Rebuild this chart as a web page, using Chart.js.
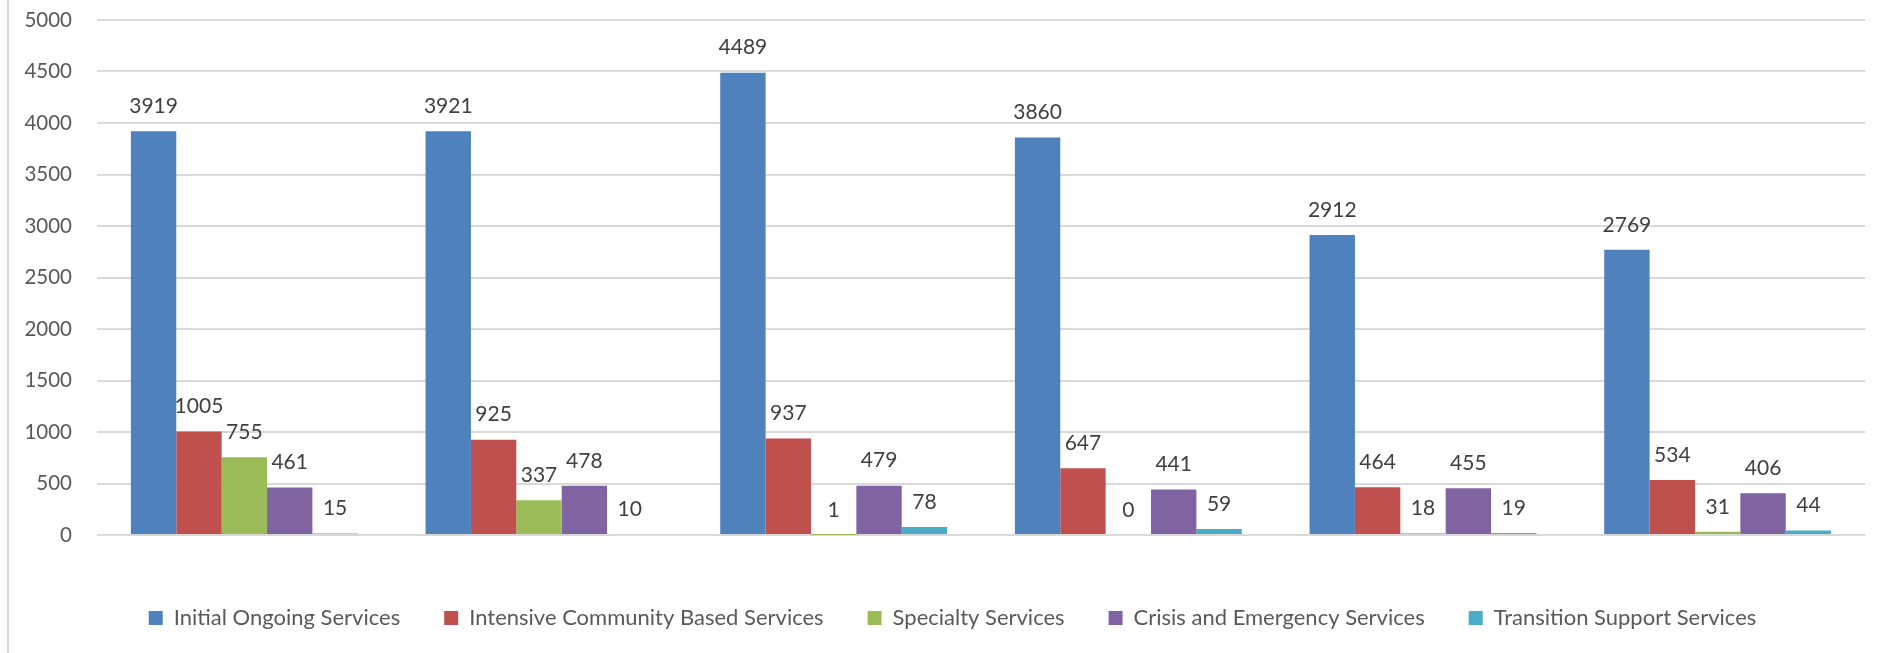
<!DOCTYPE html>
<html>
<head>
<meta charset="utf-8">
<script src="https://cdn.jsdelivr.net/npm/chart.js@4.4.1/dist/chart.umd.min.js"></script>
<style>
  html, body { margin: 0; padding: 0; background: #ffffff; }
  #wrap { position: relative; width: 1891px; height: 653px; }
  #frame { position: absolute; left: 7px; top: 0; width: 2px; height: 653px; background: #d9d9d9; }
  canvas { position: absolute; left: 0; top: 0; }
</style>
</head>
<body>
<div id="wrap">
  <div id="frame"></div>
  <canvas id="c" width="1891" height="653"></canvas>
</div>
<script>
const categories = ["2014", "2015", "2016", "2017", "2018", "2019"];
const seriesNames = [
  "Initial Ongoing Services",
  "Intensive Community Based Services",
  "Specialty Services",
  "Crisis and Emergency Services",
  "Transition Support Services"
];
const initialOngoing = [3919, 3921, 4489, 3860, 2912, 2769];
const intensiveCommunity = [1005, 925, 937, 647, 464, 534];
const specialty = [755, 337, 1, 0, 18, 31];
const crisisEmergency = [461, 478, 479, 441, 455, 406];
const transitionSupport = [15, 10, 78, 59, 19, 44];
const yTicks = [0, 500, 1000, 1500, 2000, 2500, 3000, 3500, 4000, 4500, 5000];

const colors = ["#4F81BD", "#C0504D", "#9BBB59", "#8064A2", "#4BACC6"];
const seriesValues = [initialOngoing, intensiveCommunity, specialty, crisisEmergency, transitionSupport];

const FONT = "Lato, 'Open Sans', sans-serif";
const FS = 20.5;
const LEGEND_FS = 22;

const labelPlugin = {
  id: 'barValueLabels',
  afterLayout(chart) {
    // centre the legend row slightly right, as in the original layout
    if (chart.legend) { chart.legend.left += 40; }
  },
  afterDatasetsDraw(chart) {
    const ctx = chart.ctx;
    ctx.save();
    ctx.font = "21px " + FONT;
    ctx.fillStyle = "#404040";
    ctx.textAlign = "center";
    ctx.textBaseline = "middle";
    chart.data.datasets.forEach((ds, i) => {
      const meta = chart.getDatasetMeta(i);
      meta.data.forEach((el, j) => {
        ctx.fillText(String(ds.data[j]), el.x, el.y - 25);
      });
    });
    ctx.restore();
  }
};

new Chart(document.getElementById('c'), {
  type: 'bar',
  data: {
    labels: categories,
    datasets: seriesNames.map((name, i) => ({
      label: name,
      data: seriesValues[i],
      backgroundColor: colors[i],
      borderWidth: 0,
      categoryPercentage: 0.77,
      barPercentage: 1.0
    }))
  },
  options: {
    responsive: false,
    animation: false,
    devicePixelRatio: 1,
    layout: { padding: { left: 0, right: 26, top: 20, bottom: 14 } },
    plugins: {
      legend: {
        position: 'bottom',
        labels: {
          boxWidth: 14,
          boxHeight: 14,
          padding: 44,
          color: '#595959',
          font: { family: FONT, size: LEGEND_FS }
        }
      },
      tooltip: { enabled: false }
    },
    scales: {
      x: {
        grid: { display: false },
        border: { display: false },
        ticks: { color: '#595959', font: { family: FONT, size: FS }, padding: 17 },
        afterFit(scale) { scale.height = 28; }
      },
      y: {
        min: 0,
        max: 5000,
        afterBuildTicks(scale) { scale.ticks = yTicks.map(v => ({ value: v })); },
        grid: { color: '#D9D9D9', lineWidth: 2, drawTicks: false },
        border: { display: false },
        ticks: {
          color: '#595959',
          font: { family: FONT, size: FS },
          padding: 25,
          callback: (v) => String(v)
        },
        afterFit(scale) {
          scale.width = 97;
          scale.paddingTop = 0;
          scale.paddingBottom = 0;
        }
      }
    }
  },
  plugins: [labelPlugin]
});
</script>
</body>
</html>
